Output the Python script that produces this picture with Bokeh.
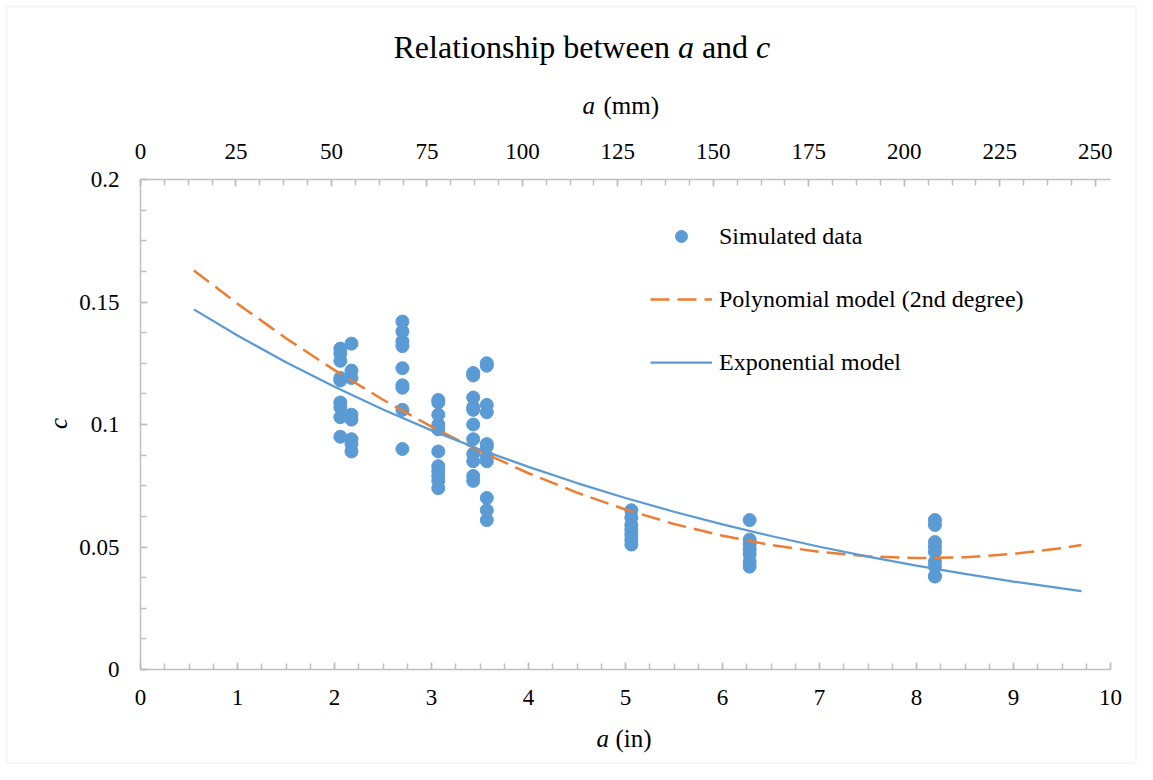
import math
from bokeh.plotting import figure
from bokeh.models import (Range1d, LinearAxis, SingleIntervalTicker, CustomJSTickFormatter,
                          Label, Legend, LegendItem, ColumnDataSource, BoxAnnotation)
from bokeh.embed import file_html
from bokeh.resources import INLINE

# ---------------- data ----------------
a_in_groups = [2.06, 2.175, 2.70, 3.07, 3.43, 3.57, 5.06, 6.28, 8.19]
c_groups = [
    [0.131, 0.129, 0.126, 0.119, 0.118, 0.109, 0.107, 0.103, 0.095],
    [0.133, 0.122, 0.119, 0.104, 0.102, 0.094, 0.092, 0.089],
    [0.142, 0.138, 0.134, 0.132, 0.123, 0.116, 0.115, 0.106, 0.090],
    [0.110, 0.109, 0.104, 0.100, 0.098, 0.089, 0.083, 0.081, 0.079, 0.077, 0.074],
    [0.121, 0.120, 0.111, 0.107, 0.106, 0.100, 0.094, 0.088, 0.085, 0.079, 0.077],
    [0.125, 0.124, 0.108, 0.105, 0.092, 0.091, 0.087, 0.085, 0.070, 0.065, 0.061],
    [0.065, 0.062, 0.059, 0.057, 0.055, 0.053, 0.051],
    [0.061, 0.053, 0.051, 0.049, 0.047, 0.044, 0.042],
    [0.061, 0.059, 0.052, 0.050, 0.048, 0.044, 0.042, 0.038, 0.038],
]
curve_a = [0.55, 1.0, 1.5, 2.0, 2.5, 3.0, 3.5, 4.0, 4.5, 5.0, 5.5, 6.0, 6.5, 7.0,
           7.5, 8.0, 8.5, 9.0, 9.5, 9.7]
poly_c = [0.1629, 0.1493, 0.1352, 0.1222, 0.1101, 0.0991, 0.0891, 0.0801, 0.0722, 0.0653,
          0.0594, 0.0546, 0.0508, 0.0480, 0.0462, 0.0455, 0.0458, 0.0472, 0.0495, 0.0508]
expo_c = [0.1470, 0.1363, 0.1254, 0.1154, 0.1061, 0.0976, 0.0898, 0.0827, 0.0761, 0.0700,
          0.0644, 0.0592, 0.0545, 0.0501, 0.0461, 0.0424, 0.0390, 0.0359, 0.0331, 0.0320]
x_in_bounds = (0, 10)
x_mm_bounds = (0, 254)
y_bounds = (0, 0.2)

title_words = ["Relationship between", "a", "and", "c"]

# ---------------- build ----------------
pts_x, pts_y = [], []
for xv, cs in zip(a_in_groups, c_groups):
    for cv in cs:
        pts_x.append(xv)
        pts_y.append(cv)

SERIF = "Liberation Serif"
BLUE = "#5b9bd5"
ORANGE = "#ed7d31"
AXIS = "#bfbfbf"

W, H = 1137, 764
# plot area in canvas pixels
PL, PR, PT, PB = 140, 1110, 179, 669
xpx = (PR - PL) / (x_in_bounds[1] - x_in_bounds[0])
ypx = (PB - PT) / (y_bounds[1] - y_bounds[0])
x0r = x_in_bounds[0] - PL / xpx
x1r = x0r + W / xpx
y1r = y_bounds[1] + PT / ypx
y0r = y_bounds[0] - (H - PB) / ypx

p = figure(width=W, height=H, x_range=Range1d(x0r, x1r), y_range=Range1d(y0r, y1r),
           output_backend="svg", toolbar_location=None, title=None,
           min_border=0, min_border_left=0, min_border_right=0,
           min_border_top=0, min_border_bottom=0)
p.extra_x_ranges = {"mm": Range1d(x0r * 25.4, x1r * 25.4)}
p.xgrid.visible = False
p.ygrid.visible = False
p.outline_line_color = None
p.background_fill_color = "white"
p.border_fill_color = "white"

# light chart-area border
p.add_layout(BoxAnnotation(left=x0r + 6 / xpx, right=x0r + (W - 1.5) / xpx,
                           top=y1r - 6 / ypx, bottom=y1r - (H - 1.5) / ypx,
                           fill_alpha=0, line_color="#d9d9d9", line_width=1.5,
                           editable=False))

fmt = CustomJSTickFormatter(code="return String(parseFloat(tick.toFixed(4)));")

def style_axis(ax):
    ax.axis_line_color = AXIS
    ax.axis_line_width = 1.5
    ax.major_tick_line_color = AXIS
    ax.minor_tick_line_color = AXIS
    ax.major_tick_line_width = 1.5
    ax.minor_tick_line_width = 1.5
    ax.major_tick_in = 7
    ax.major_tick_out = 0
    ax.minor_tick_in = 6
    ax.minor_tick_out = 0
    ax.major_label_text_font = SERIF
    ax.major_label_text_font_size = "23px"
    ax.major_label_text_color = "black"
    ax.formatter = fmt

xb = p.xaxis[0]
xb.ticker = SingleIntervalTicker(interval=1, num_minor_ticks=4)
style_axis(xb)
xb.fixed_location = y_bounds[0]
xb.bounds = x_in_bounds
xb.major_label_standoff = 20

yl = p.yaxis[0]
yl.ticker = SingleIntervalTicker(interval=0.05, num_minor_ticks=4)
style_axis(yl)
yl.fixed_location = x_in_bounds[0]
yl.bounds = y_bounds
yl.major_label_standoff = 21

xt = LinearAxis(x_range_name="mm", ticker=SingleIntervalTicker(interval=25, num_minor_ticks=4))
style_axis(xt)
xt.fixed_location = y_bounds[1]
xt.bounds = x_mm_bounds
xt.major_label_standoff = 21
p.add_layout(xt, "above")

src = ColumnDataSource(dict(x=pts_x, y=pts_y))
r_pts = p.scatter("x", "y", source=src, size=13, fill_color=BLUE, line_color=BLUE)
csrc = ColumnDataSource(dict(x=curve_a, poly=poly_c, expo=expo_c))
r_poly = p.line("x", "poly", source=csrc, line_color=ORANGE, line_width=2.5, line_dash="19 8")
r_expo = p.line("x", "expo", source=csrc, line_color=BLUE, line_width=2.25)

legend = Legend(items=[
    LegendItem(label="Simulated data", renderers=[r_pts]),
    LegendItem(label="Polynomial model (2nd degree)", renderers=[r_poly]),
    LegendItem(label="Exponential model", renderers=[r_expo]),
], location=(650, H - 377))
legend.background_fill_alpha = 0
legend.border_line_color = None
legend.padding = 0
legend.margin = 0
legend.glyph_width = 62
legend.glyph_height = 30
legend.label_height = 30
legend.spacing = 33
legend.label_standoff = 7
legend.label_text_font = SERIF
legend.label_text_font_size = "24px"
legend.label_text_color = "black"
p.add_layout(legend, "center")

# ---------------- texts (canvas px; y measured from bottom) ----------------
def lab(text, x, y_from_top, size, italic=False, align="left", baseline="alphabetic", angle=0):
    p.add_layout(Label(x=x, y=H - y_from_top, x_units="screen", y_units="screen", text=text,
                       text_font=SERIF, text_font_size=f"{size}px",
                       text_font_style="italic" if italic else "normal",
                       text_align=align, text_baseline=baseline, text_color="black",
                       angle=angle))

TFS = 32
tx = 393
sp = 0.25 * TFS
w1 = 8.638 * TFS
wa = 0.5 * TFS
wand = 1.444 * TFS
TY = 46
lab(title_words[0], tx, TY, TFS)
lab(title_words[1], tx + w1 + sp, TY, TFS, italic=True)
lab(title_words[2], tx + w1 + sp + wa + sp, TY, TFS)
lab(title_words[3], tx + w1 + sp + wa + sp + wand + sp, TY, TFS, italic=True)

AFS = 25
lab("a", 582, 105, AFS, italic=True)
lab("(mm)", 603, 105, AFS)
lab("a", 596, 738, AFS, italic=True)
lab("(in)", 615, 738, AFS)
lab("c", 58, 423, AFS, italic=True, align="center", baseline="middle", angle=math.pi / 2)

open("out.html", "w").write(file_html(p, INLINE))
